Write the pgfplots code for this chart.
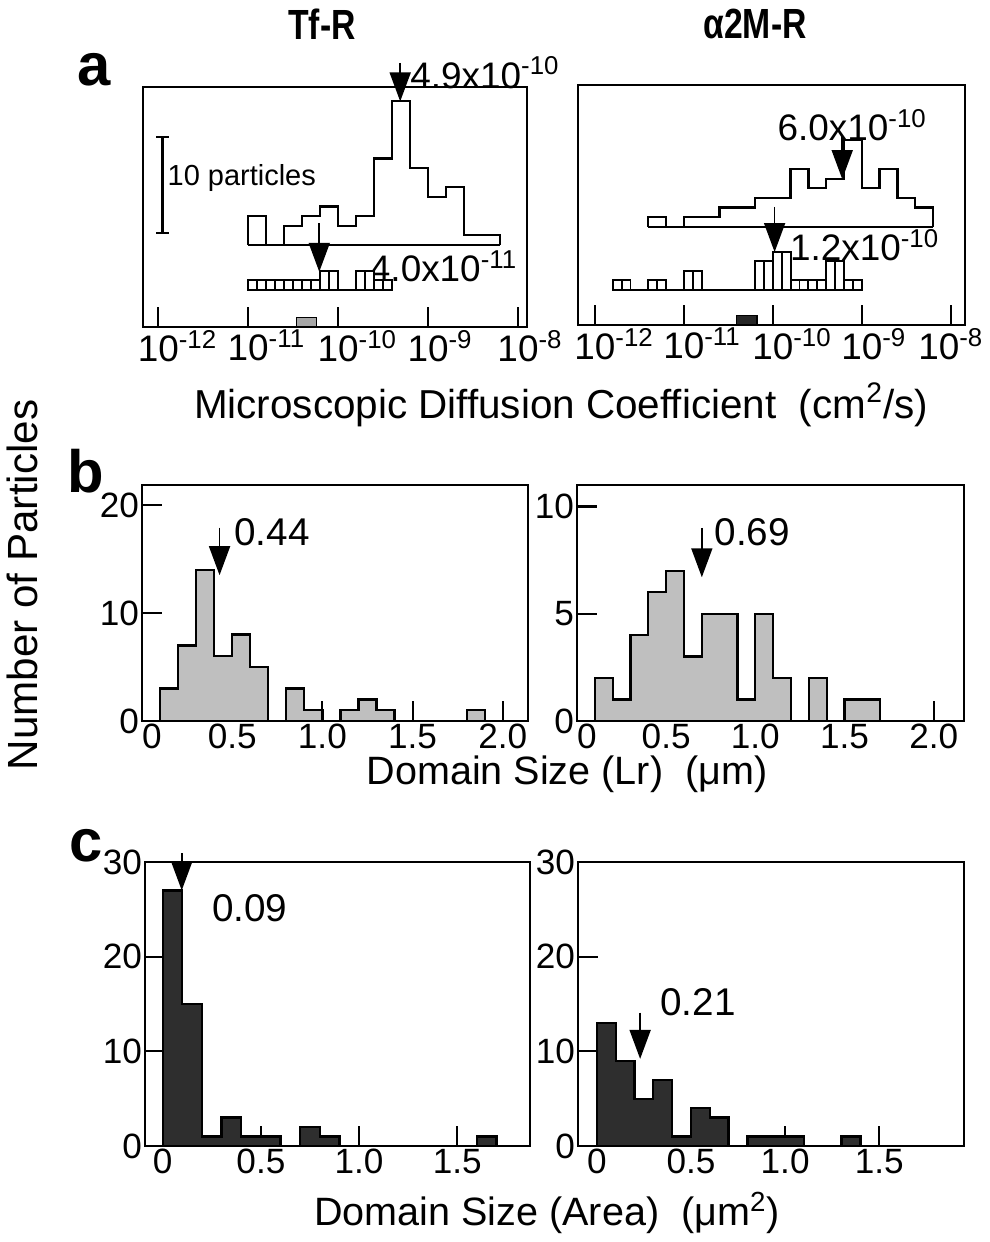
\documentclass[border=0pt]{standalone}
\usepackage{fontspec}
\setmainfont{Liberation Sans}
\usepackage{graphicx}
\usepackage{pgfplots}
\pgfplotsset{compat=1.18}
\usetikzlibrary{arrows.meta}

\newcommand{\fs}[1]{\fontsize{#1}{#1}\selectfont}
\newcommand{\dec}[1]{10\rlap{\textsuperscript{#1}}}

\pgfplotsset{
  base/.style={scale only axis, anchor=south west,
    axis line style={line width=1.5pt},
    tick style={line width=1.2pt, black},
    major tick length=0.4cm, tick align=inside,
    xtick pos=left, ytick pos=left,
    ticklabel style={font=\fs{20}, inner sep=1.5pt}},
  ovl/.style={scale only axis, anchor=south west, hide axis},
  hist/.style={const plot, draw=black, line width=1.3pt},
  decades/.style={xtick={-12,-11,-10,-9,-8},
    ticklabel style={font=\fs{21}}},
}
\tikzset{
  arr/.style={line width=1pt, -{Triangle[width=0.42cm,length=0.58cm]}},
  note/.style={anchor=west, font=\fs{21}, inner sep=0pt},
}

% panel a, Tf-R
\pgfplotstableread{
x n
-11.0 0
-11.0 3
-10.8 0
-10.6 2
-10.4 3
-10.2 4
-10.0 2
-9.8 3
-9.6 9
-9.4 15
-9.2 8
-9.0 5
-8.8 6
-8.6 1
-8.4 1
-8.2 0
}\tfup
\pgfplotstableread{
x n
-11.0 1
-10.9 1
-10.8 1
-10.7 1
-10.6 1
-10.5 1
-10.4 1
-10.3 1
-10.2 2
-10.1 2
-10.0 0
-9.9 0
-9.8 2
-9.7 2
-9.6 1
-9.5 1
-9.4 0
}\tflow
% panel a, a2M-R
\pgfplotstableread{
x n
-11.4 0
-11.4 1
-11.2 0
-11.0 1
-10.8 1
-10.6 2
-10.4 2
-10.2 3
-10.0 3
-9.8 6
-9.6 4
-9.4 5
-9.2 9
-9.0 4
-8.8 6
-8.6 3
-8.4 2
-8.2 0
}\amup
\pgfplotstableread{
x n
-11.8 1
-11.7 1
-11.6 0
-11.5 0
-11.4 1
-11.3 1
-11.2 0
-11.1 0
-11.0 2
-10.9 2
-10.8 0
-10.7 0
-10.6 0
-10.5 0
-10.4 0
-10.3 0
-10.2 3
-10.1 3
-10.0 4
-9.9 4
-9.8 1
-9.7 1
-9.6 1
-9.5 1
-9.4 3
-9.3 3
-9.2 1
-9.1 1
-9.0 0
}\amlow

\begin{document}
\begin{tikzpicture}
\path[use as bounding box] (0,0) rectangle (19.8,24.84);

% ---------- titles and labels
\node[font=\bfseries\fs{24}] at (6.44,24.36) {\scalebox{0.8}[1]{Tf-R}};
\node[font=\bfseries\fs{24}] at (15.1,24.36) {\scalebox{0.8}[1]{α2M-R}};
\node[font=\bfseries\fs{34}] at (1.88,23.45) {a};
\node[font=\bfseries\fs{34}] at (1.72,15.42) {b};
\node[font=\bfseries\fs{34}] at (1.72,7.92) {c};
\node[font=\fs{23}] at (11.22,16.74) {Microscopic Diffusion Coefficient\ \ (cm\textsuperscript{2}/s)};
\node[font=\fs{22.5}] at (11.34,9.36) {Domain Size (Lr)\ \ (μm)};
\node[font=\fs{22.5}] at (10.94,0.58) {Domain Size (Area)\ \ (μm\textsuperscript{2})};
\node[font=\fs{24}, rotate=90] at (0.44,13.14) {Number of Particles};

% ---------- a, left (Tf-R)
\begin{axis}[base, decades, at={(2.86cm,18.30cm)}, width=7.68cm, height=4.8cm,
  xticklabels={\dec{-12},\dec{-11},\dec{-10},\dec{-9},\dec{-8}},
  xmin=-12.17, xmax=-7.9, ymin=0, ymax=25, ytick=\empty, clip=false]
  \addplot[ybar interval, fill=black!35, draw=black, line width=0.8pt] coordinates {(-10.46,1) (-10.24,1)};
  \draw[line width=1.5pt] (axis cs:-11.95,9.8) -- (axis cs:-11.95,19.8);
  \draw[line width=1.5pt] (axis cs:-12.02,9.8) -- (axis cs:-11.88,9.8);
  \draw[line width=1.5pt] (axis cs:-12.02,19.8) -- (axis cs:-11.88,19.8);
  \node[anchor=west, font=\fs{16.5}, inner sep=0pt] at (axis cs:-11.9,15.5) {10 particles};
  \draw[arr] (axis cs:-9.31,27.5) -- (axis cs:-9.31,23.5);
  \node[note] at (axis cs:-9.2,26.5) {4.9x10\textsuperscript{-10}};
  \draw[arr] (axis cs:-10.21,10.8) -- (axis cs:-10.21,5.75);
  \node[note] at (axis cs:-9.65,6.3) {4.0x10\textsuperscript{-11}};
\end{axis}
\begin{axis}[ovl, at={(2.86cm,18.30cm)}, width=7.68cm, height=4.8cm,
  xmin=-12.17, xmax=-7.9, ymin=-8.55, ymax=16.45]
  \addplot[line width=1.3pt] coordinates {(-11.0,0) (-8.2,0)};
  \addplot[hist] table[x=x, y=n] {\tfup};
\end{axis}
\begin{axis}[ovl, at={(2.86cm,18.30cm)}, width=7.68cm, height=4.8cm,
  xmin=-12.17, xmax=-7.9, ymin=-3.85, ymax=21.15]
  \addplot[ybar interval, fill=white, draw=black, line width=1.1pt] table[x=x, y=n] {\tflow};
\end{axis}

% ---------- a, right (a2M-R)
\begin{axis}[base, decades, at={(11.56cm,18.34cm)}, width=7.74cm, height=4.8cm,
  xticklabels={\dec{-12},\dec{-11},\dec{-10},\dec{-9},10\textsuperscript{-8}},
  xmin=-12.19, xmax=-7.84, ymin=0, ymax=25, ytick=\empty, clip=false]
  \addplot[ybar interval, fill=black!85, draw=black, line width=0.8pt] coordinates {(-10.41,1) (-10.18,1)};
  \draw[arr] (axis cs:-9.22,19.8) -- (axis cs:-9.22,15.2);
  \node[note] at (axis cs:-9.95,20.8) {6.0x10\textsuperscript{-10}};
  \draw[arr] (axis cs:-9.98,12.3) -- (axis cs:-9.98,7.6);
  \node[note] at (axis cs:-9.81,8.3) {1.2x10\textsuperscript{-10}};
\end{axis}
\begin{axis}[ovl, at={(11.56cm,18.34cm)}, width=7.74cm, height=4.8cm,
  xmin=-12.19, xmax=-7.84, ymin=-10.24, ymax=14.76]
  \addplot[line width=1.3pt] coordinates {(-11.4,0) (-8.2,0)};
  \addplot[hist] table[x=x, y=n] {\amup};
\end{axis}
\begin{axis}[ovl, at={(11.56cm,18.34cm)}, width=7.74cm, height=4.8cm,
  xmin=-12.19, xmax=-7.84, ymin=-3.65, ymax=21.35]
  \addplot[ybar interval, fill=white, draw=black, line width=1.1pt] table[x=x, y=n] {\amlow};
\end{axis}

% ---------- b, left
\begin{axis}[base, at={(2.84cm,10.42cm)}, width=7.72cm, height=4.72cm,
  xmin=0, xmax=2.14, ymin=0, ymax=21.85,
  xtick={0,0.5,1,1.5,2}, xticklabels={\makebox[0pt][l]{0},0.5,1.0,1.5,2.0},
  ytick={0,10,20}, yticklabels={0,10,20}, clip=false]
  \addplot[hist, fill=black!25] coordinates {
    (0.1,0) (0.1,3) (0.2,7) (0.3,14) (0.4,6) (0.5,8) (0.6,5) (0.7,0)
    (0.8,3) (0.9,1) (1.0,0) (1.1,1) (1.2,2) (1.3,1) (1.4,0) (1.8,1) (1.9,0)} \closedcycle;
  \draw[arr] (axis cs:0.43,17.9) -- (axis cs:0.43,13.5);
  \node[note, font=\fs{22}] at (axis cs:0.51,17.5) {0.44};
\end{axis}

% ---------- b, right
\begin{axis}[base, at={(11.54cm,10.42cm)}, width=7.74cm, height=4.72cm,
  xmin=0, xmax=2.17, ymin=0, ymax=11,
  xtick={0,0.5,1,1.5,2}, xticklabels={\makebox[0pt][l]{0},0.5,1.0,1.5,2.0},
  ytick={0,5,10}, yticklabels={0,5,10}, clip=false]
  \addplot[hist, fill=black!25] coordinates {
    (0.1,0) (0.1,2) (0.2,1) (0.3,4) (0.4,6) (0.5,7) (0.6,3) (0.7,5) (0.8,5)
    (0.9,1) (1.0,5) (1.1,2) (1.2,0) (1.3,2) (1.4,0) (1.5,1) (1.6,1) (1.7,0)} \closedcycle;
  \draw[arr] (axis cs:0.70,9.0) -- (axis cs:0.70,6.7);
  \node[note, font=\fs{22}] at (axis cs:0.77,8.8) {0.69};
\end{axis}

% ---------- c, left
\begin{axis}[base, at={(2.90cm,1.92cm)}, width=7.70cm, height=5.68cm,
  xmin=-0.09, xmax=1.87, ymin=0, ymax=30,
  xtick={0,0.5,1,1.5}, xticklabels={0,0.5,1.0,1.5},
  ytick={0,10,20,30}, yticklabels={0,10,20,30}, clip=false]
  \addplot[hist, fill=black!82] coordinates {
    (0,0) (0,27) (0.1,15) (0.2,1) (0.3,3) (0.4,1) (0.5,1) (0.6,0)
    (0.7,2) (0.8,1) (0.9,0) (1.6,1) (1.7,0)} \closedcycle;
  \draw[arr] (axis cs:0.097,30.9) -- (axis cs:0.097,27.0);
  \node[note, font=\fs{22}] at (axis cs:0.25,25.1) {0.09};
\end{axis}

% ---------- c, right
\begin{axis}[base, at={(11.56cm,1.92cm)}, width=7.72cm, height=5.68cm,
  xmin=-0.1, xmax=1.95, ymin=0, ymax=30,
  xtick={0,0.5,1,1.5}, xticklabels={0,0.5,1.0,1.5},
  ytick={0,10,20,30}, yticklabels={0,10,20,30}, clip=false]
  \addplot[hist, fill=black!82] coordinates {
    (0,0) (0,13) (0.1,9) (0.2,5) (0.3,7) (0.4,1) (0.5,4) (0.6,3) (0.7,0)
    (0.8,1) (0.9,1) (1.0,1) (1.1,0) (1.3,1) (1.4,0)} \closedcycle;
  \draw[arr] (axis cs:0.23,14.1) -- (axis cs:0.23,9.2);
  \node[note, font=\fs{22}] at (axis cs:0.335,15.2) {0.21};
\end{axis}
\end{tikzpicture}
\end{document}
